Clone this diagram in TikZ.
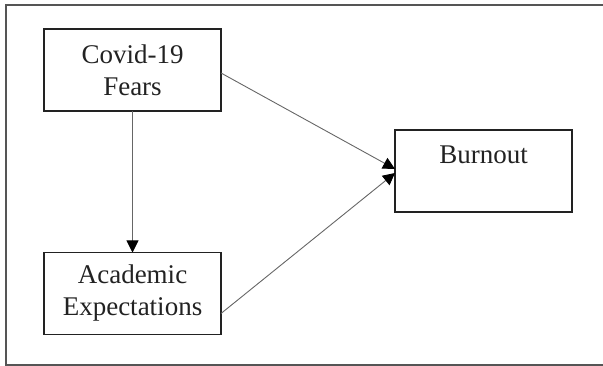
\documentclass[tikz,border=0pt]{standalone}
\usepackage{fontspec}
\setmainfont{Liberation Serif}
\usetikzlibrary{arrows.meta}
\definecolor{boxc}{HTML}{222222}
\definecolor{linec}{HTML}{666666}
\definecolor{framec}{HTML}{555555}
\tikzset{
  varbox/.style={draw=boxc, line width=1.8pt, minimum width=177pt, minimum height=82pt, inner sep=0pt, outer sep=0pt},
  lbl/.style={font=\fontsize{27pt}{32pt}\selectfont, align=center, text=boxc, inner sep=0pt},
  conn/.style={draw=linec, line width=0.9pt, -{Triangle[length=12pt,width=12pt,color=black]}, shorten >=0pt},
}
\begin{document}
\begin{tikzpicture}[x=1pt,y=1pt]
\useasboundingbox (0,0) rectangle (603,366);
\begin{scope}
\clip (0,0) rectangle (603,366);
\draw[framec, line width=1.3pt] (6,1) rectangle (625,361);
\end{scope}
\node[varbox] (cov) at (132.5,296) {};
\node[varbox] (aca) at (132.5,72.5) {};
\node[varbox] (bur) at (483.5,195) {};
\node[lbl] (covt) at (cov.center) {Covid-19\\Fears};
\node[lbl] (acat) at (aca.center) {Academic\\Expectations};
\node[lbl, anchor=base] (burt) at (483.5,202) {Burnout};
\coordinate (burin1) at ([yshift=2pt]bur.west);
\coordinate (burin2) at ([yshift=-2pt]bur.west);
\draw[conn] ([yshift=-3pt]cov.east) -- (burin1);
\draw[conn] ([yshift=-20pt]aca.east) -- (burin2);
\draw[conn] (cov.south) -- (aca.north);
\end{tikzpicture}
\end{document}
